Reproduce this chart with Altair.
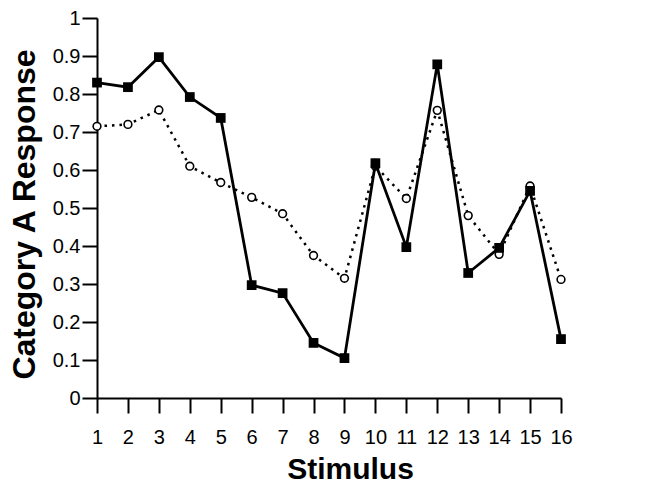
import altair as alt
import pandas as pd

stimulus = list(range(1, 17))
observed = [0.83, 0.818, 0.897, 0.792, 0.737, 0.297, 0.276, 0.145, 0.105,
            0.618, 0.397, 0.878, 0.329, 0.395, 0.545, 0.155]
model = [0.715, 0.72, 0.758, 0.61, 0.567, 0.528, 0.485, 0.375, 0.315,
         0.61, 0.525, 0.757, 0.48, 0.378, 0.558, 0.312]
y_ticks = [0, 0.1, 0.2, 0.3, 0.4, 0.5, 0.6, 0.7, 0.8, 0.9, 1]

df = pd.DataFrame({"stimulus": stimulus, "observed": observed, "model": model})

FONT = "Liberation Sans"

x = alt.X("stimulus:Q",
          scale=alt.Scale(domain=[1, 16], nice=False, zero=False),
          axis=alt.Axis(title="Stimulus", values=stimulus, format="d",
                        grid=False, tickSize=15, labelPadding=14,
                        labelFontSize=20, labelFont=FONT, labelColor="black",
                        titleFont=FONT, titleFontSize=30, titleFontWeight="bold",
                        titleColor="black", titleBaseline="alphabetic", titleY=80,
                        titleX=253, titleAlign="center",
                        domainColor="black", domainWidth=2, tickColor="black",
                        tickWidth=2, labelFlush=False, labelOverlap=False))
y_axis = alt.Axis(title="Category A Response", values=y_ticks,
                  format="~g", grid=False, tickSize=15, labelPadding=2,
                  labelFontSize=20, labelFont=FONT, labelColor="black",
                  titleFont=FONT, titleFontSize=32, titleFontWeight="bold",
                  titleColor="black", titleBaseline="alphabetic", titleX=-63,
                  titleY=196, titleAlign="center",
                  domainColor="black", domainWidth=2, tickColor="black",
                  tickWidth=2, labelFlush=False, labelOverlap=False)
yscale = alt.Scale(domain=[0, 1], nice=False)

base = alt.Chart(df).encode(x=x)

model_line = base.mark_line(color="black", strokeWidth=2.5, strokeDash=[2.5, 5]).encode(
    y=alt.Y("model:Q", scale=yscale, axis=y_axis))
model_pts = base.mark_point(shape="circle", size=60, filled=True, fill="white",
                            stroke="black", strokeWidth=1.6, opacity=1).encode(
    y=alt.Y("model:Q", scale=yscale, axis=y_axis))
obs_line = base.mark_line(color="black", strokeWidth=2.8).encode(
    y=alt.Y("observed:Q", scale=yscale, axis=y_axis))
obs_pts = base.mark_point(shape="square", size=95, filled=True, color="black",
                          opacity=1).encode(
    y=alt.Y("observed:Q", scale=yscale, axis=y_axis))

chart = alt.layer(model_line, model_pts, obs_line, obs_pts).properties(
    width=464, height=380,
    autosize=alt.AutoSizeParams(type="none"),
    padding={"left": 97, "top": 18, "right": 86, "bottom": 97},
    background="white",
).configure_view(stroke=None)

chart.save("out.html", embed_options={"renderer": "svg", "actions": False})
